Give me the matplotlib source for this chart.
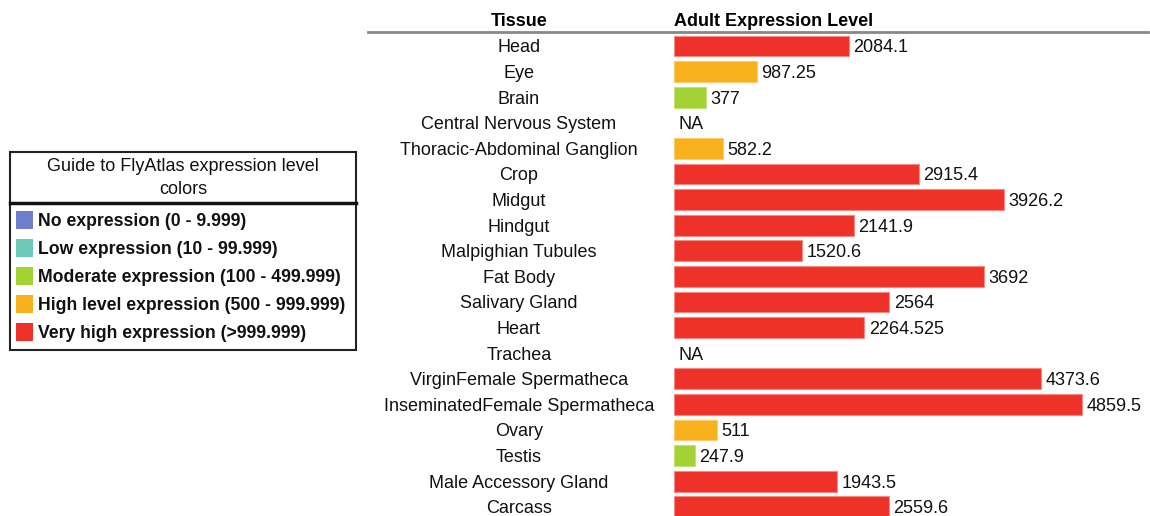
import numpy as np
import matplotlib
matplotlib.use("Agg")
from matplotlib import pyplot as plt
from matplotlib.patches import Rectangle
from matplotlib.transforms import blended_transform_factory

plt.rcParams['font.family'] = ['Liberation Sans', 'DejaVu Sans']

tissues = ['Head', 'Eye', 'Brain', 'Central Nervous System', 'Thoracic-Abdominal Ganglion',
           'Crop', 'Midgut', 'Hindgut', 'Malpighian Tubules', 'Fat Body', 'Salivary Gland',
           'Heart', 'Trachea', 'VirginFemale Spermatheca', 'InseminatedFemale Spermatheca',
           'Ovary', 'Testis', 'Male Accessory Gland', 'Carcass']
values = [2084.1, 987.25, 377, None, 582.2, 2915.4, 3926.2, 2141.9, 1520.6, 3692,
          2564, 2264.525, None, 4373.6, 4859.5, 511, 247.9, 1943.5, 2559.6]
labels = ['2084.1', '987.25', '377', 'NA', '582.2', '2915.4', '3926.2', '2141.9', '1520.6',
          '3692', '2564', '2264.525', 'NA', '4373.6', '4859.5', '511', '247.9', '1943.5', '2559.6']

legend_labels = ['No expression (0 - 9.999)', 'Low expression (10 - 99.999)',
                 'Moderate expression (100 - 499.999)', 'High level expression (500 - 999.999)',
                 'Very high expression (>999.999)']
legend_colors = ['#6f7fcc', '#6bcbb8', '#a2d233', '#f8b01c', '#ee3229']
edge_colors = ['#9aa5dd', '#9adbd0', '#c2e27a', '#fbcd70', '#f58a84']
bounds = [10, 100, 500, 1000]


def level(v):
    return int(np.searchsorted(bounds, v, side='right'))


W, H = 1150, 516
fig = plt.figure(figsize=(W / 100, H / 100), dpi=100)

# bar axes
x0, x1 = 674, 1150
y_top, y_bot = 33, 516
row0, step = 46, 25.6
ax = fig.add_axes([x0 / W, 1 - y_bot / H, (x1 - x0) / W, (y_bot - y_top) / H])
ax.set_xlim(0, (x1 - x0) / 0.08396)
ax.set_ylim((y_bot - row0) / step, (y_top - row0) / step)
ax.axis('off')

fs = 13
tr = blended_transform_factory(ax.transAxes, ax.transData)
for i, (t, v, lab) in enumerate(zip(tissues, values, labels)):
    ax.text((519 - x0) / (x1 - x0), i, t, transform=tr, ha='center', va='center_baseline',
            fontsize=fs, color='#111111', clip_on=False)
    if v is None:
        ax.text(50, i, lab, ha='left', va='center_baseline', fontsize=fs, color='#111111')
        continue
    k = level(v)
    ax.barh(i, v, height=0.82, left=0, color=legend_colors[k],
            edgecolor=edge_colors[k], linewidth=0.8)
    ax.text(v + 55, i, lab, ha='left', va='center_baseline', fontsize=fs, color='#111111')

# headers
fig.text(519 / W, 1 - 20 / H, 'Tissue', ha='center', va='center_baseline', fontsize=fs,
         fontweight='bold')
fig.text(674 / W, 1 - 20 / H, 'Adult Expression Level', ha='left', va='center_baseline',
         fontsize=fs, fontweight='bold')
fig.add_artist(plt.Line2D([368 / W, 1148 / W], [1 - 32 / H, 1 - 32 / H], color='#888888', lw=2))

# legend box
lx0, lx1, ly0, ly1 = 10, 356, 152, 350
fig.add_artist(Rectangle((lx0 / W, 1 - ly1 / H), (lx1 - lx0) / W, (ly1 - ly0) / H,
                         fill=False, edgecolor='#222222', lw=1.5, transform=fig.transFigure))
fig.add_artist(plt.Line2D([lx0 / W, lx1 / W], [1 - 203 / H, 1 - 203 / H], color='#111111', lw=2.5))
fig.text((lx0 + lx1) / 2 / W, 1 - 178 / H, 'Guide to FlyAtlas expression level\ncolors',
         ha='center', va='center', fontsize=fs, linespacing=1.5, color='#111111')
for j, (lab, c) in enumerate(zip(legend_labels, legend_colors)):
    yc = 220 + 28 * j
    fig.add_artist(Rectangle((16 / W, 1 - (yc + 9) / H), 17 / W, 18 / H, facecolor=c,
                             edgecolor='none', transform=fig.transFigure))
    fig.text(38 / W, 1 - yc / H, lab, ha='left', va='center_baseline', fontsize=fs - 0.3,
             fontweight='bold', color='#111111')

fig.savefig('out.png', dpi=100)
